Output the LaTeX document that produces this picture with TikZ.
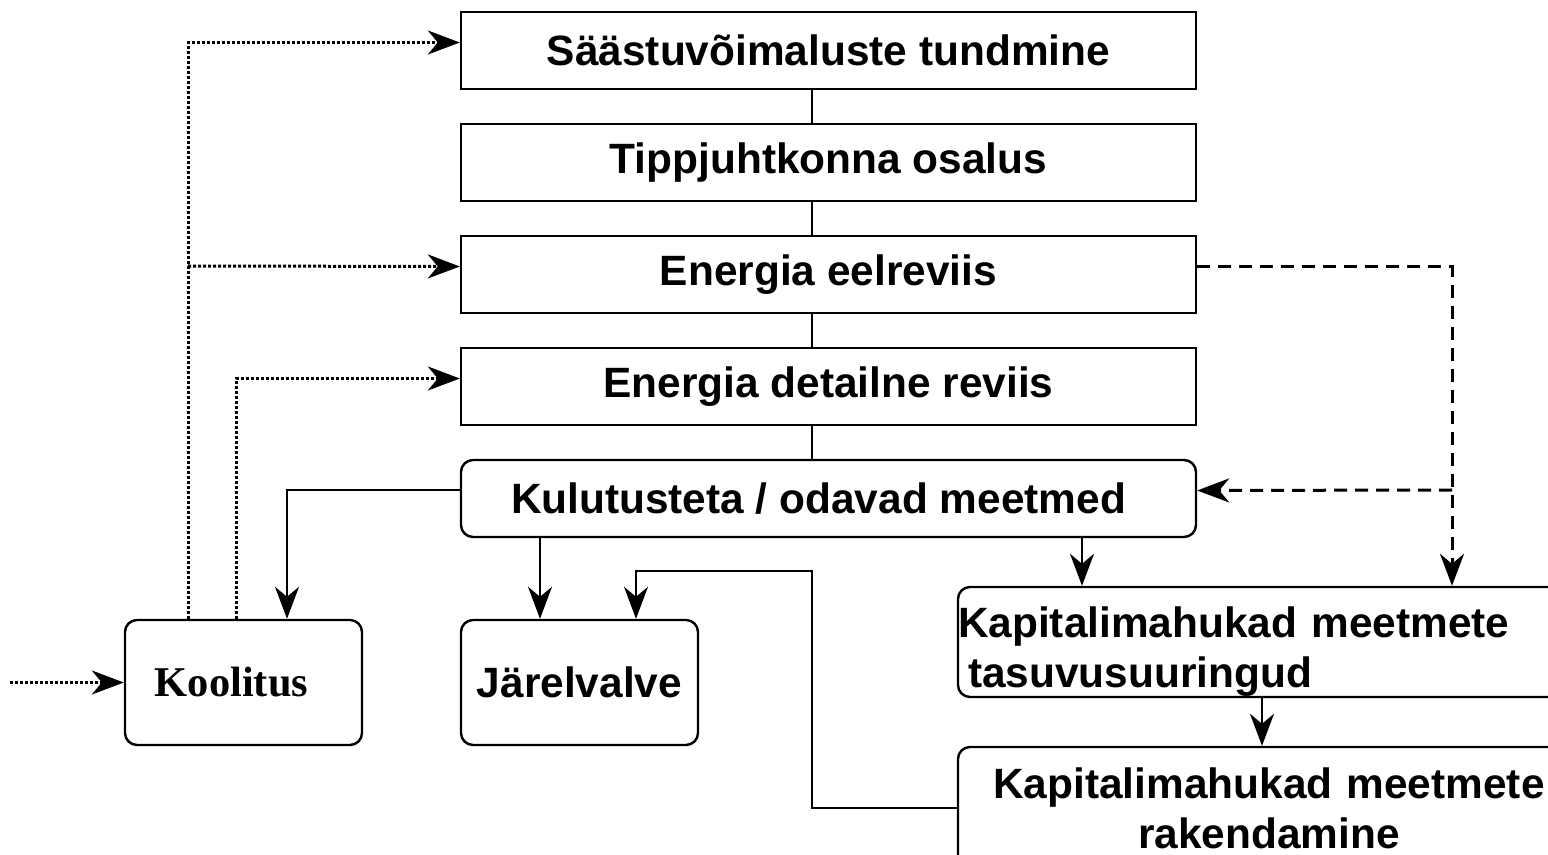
\documentclass[tikz,border=0pt]{standalone}
\usepackage{fontspec}
\setmainfont{Liberation Sans}
\newfontfamily\timesbold{Liberation Serif}
\usetikzlibrary{arrows.meta,positioning,calc}

\newcommand{\boxfont}{\fontsize{21.2}{25}\selectfont\bfseries}

\tikzset{
    stage/.style={draw, line width=1.2pt, minimum width=367.5pt, minimum height=38.5pt, inner sep=0pt, font=\boxfont},
    smallbox/.style={draw, line width=1.2pt, rounded corners=6pt, minimum width=118.5pt, minimum height=62.5pt, inner sep=0pt, font=\boxfont},
    capbox/.style={draw, line width=1.2pt, rounded corners=6pt, inner xsep=0pt, inner ysep=0pt, text width=311pt, font=\boxfont},
    dotline/.style={line width=1.5pt, dash pattern=on 1.5pt off 1pt},
    dashline/.style={line width=1.5pt, dash pattern=on 6.5pt off 4pt}
}

\begin{document}
\begin{tikzpicture}[x=0.5pt, y=-0.5pt, line width=1pt, >={Stealth[length=16pt,width=12pt,inset=5pt]}]
    \useasboundingbox (0,0) rectangle (1548,855);
    % Main chain
    \node[stage] (saast) at (828.5,50.5) {Säästuvõimaluste tundmine};
    \node[stage] (tipp) at (828.5,162.5) {Tippjuhtkonna osalus};
    \node[stage] (eel) at (828.5,274.5) {Energia eelreviis};
    \node[stage] (det) at (828.5,386.5) {Energia detailne reviis};
    \node[stage, rounded corners=6pt] (kulu) at (828.5,498.5) {Kulutusteta / odavad meetmed\hspace*{10pt}};
    \coordinate (spine) at (812,0);
    \foreach \a/\b in {saast/tipp, tipp/eel, eel/det, det/kulu}
        \draw (\a.south -| spine) -- (\b.north -| spine);
    % Lower boxes
    \node[smallbox] (kool) at (243.5,682.5) {\timesbold Koolitus\hspace*{12pt}};
    \node[smallbox] (jarel) at (579.5,682.5) {Järelvalve};
    \node[capbox, minimum height=55pt, align=left] (tasu) at (1269,642) {\rule{0pt}{25pt}Kapitalimahukad meetmete\\\hspace*{5pt}tasuvusuuringud};
    \node[capbox, minimum height=61pt, align=center] (rak) at (1269,808) {Kapitalimahukad meetmete\\rakendamine};
    % Solid arrows
    \draw[->] ([yshift=4pt]kulu.west) -| (kool.north -| 287,0);
    \draw[->] (kulu.south -| 540,0) -- (jarel.north -| 540,0);
    \draw[->] (kulu.south -| 1082,0) -- (tasu.north -| 1082,0);
    \draw[->] (tasu.south -| 1262,0) -- (rak.north -| 1262,0);
    \draw[->] (rak.west) -| (812,571) -| (jarel.north -| 636,0);
    % Dashed arrows
    \coordinate (fork) at (1452,490);
    \draw[->, dashline] ([yshift=4pt]eel.east) -| (tasu.north -| fork);
    \draw[->, dashline] (fork) -- ([yshift=4pt]kulu.east);
    % Dotted arrows
    \coordinate (branch) at (188,266);
    \coordinate (feed) at (10,682.5);
    \draw[->, dotline] (kool.north -| branch) |- ([yshift=4pt]saast.west);
    \draw[->, dotline] (branch) -- ([yshift=4pt]eel.west);
    \draw[->, dotline] (kool.north -| 236,0) |- ([yshift=4pt]det.west);
    \draw[->, dotline] (feed) -- (kool.west);
\end{tikzpicture}
\end{document}
